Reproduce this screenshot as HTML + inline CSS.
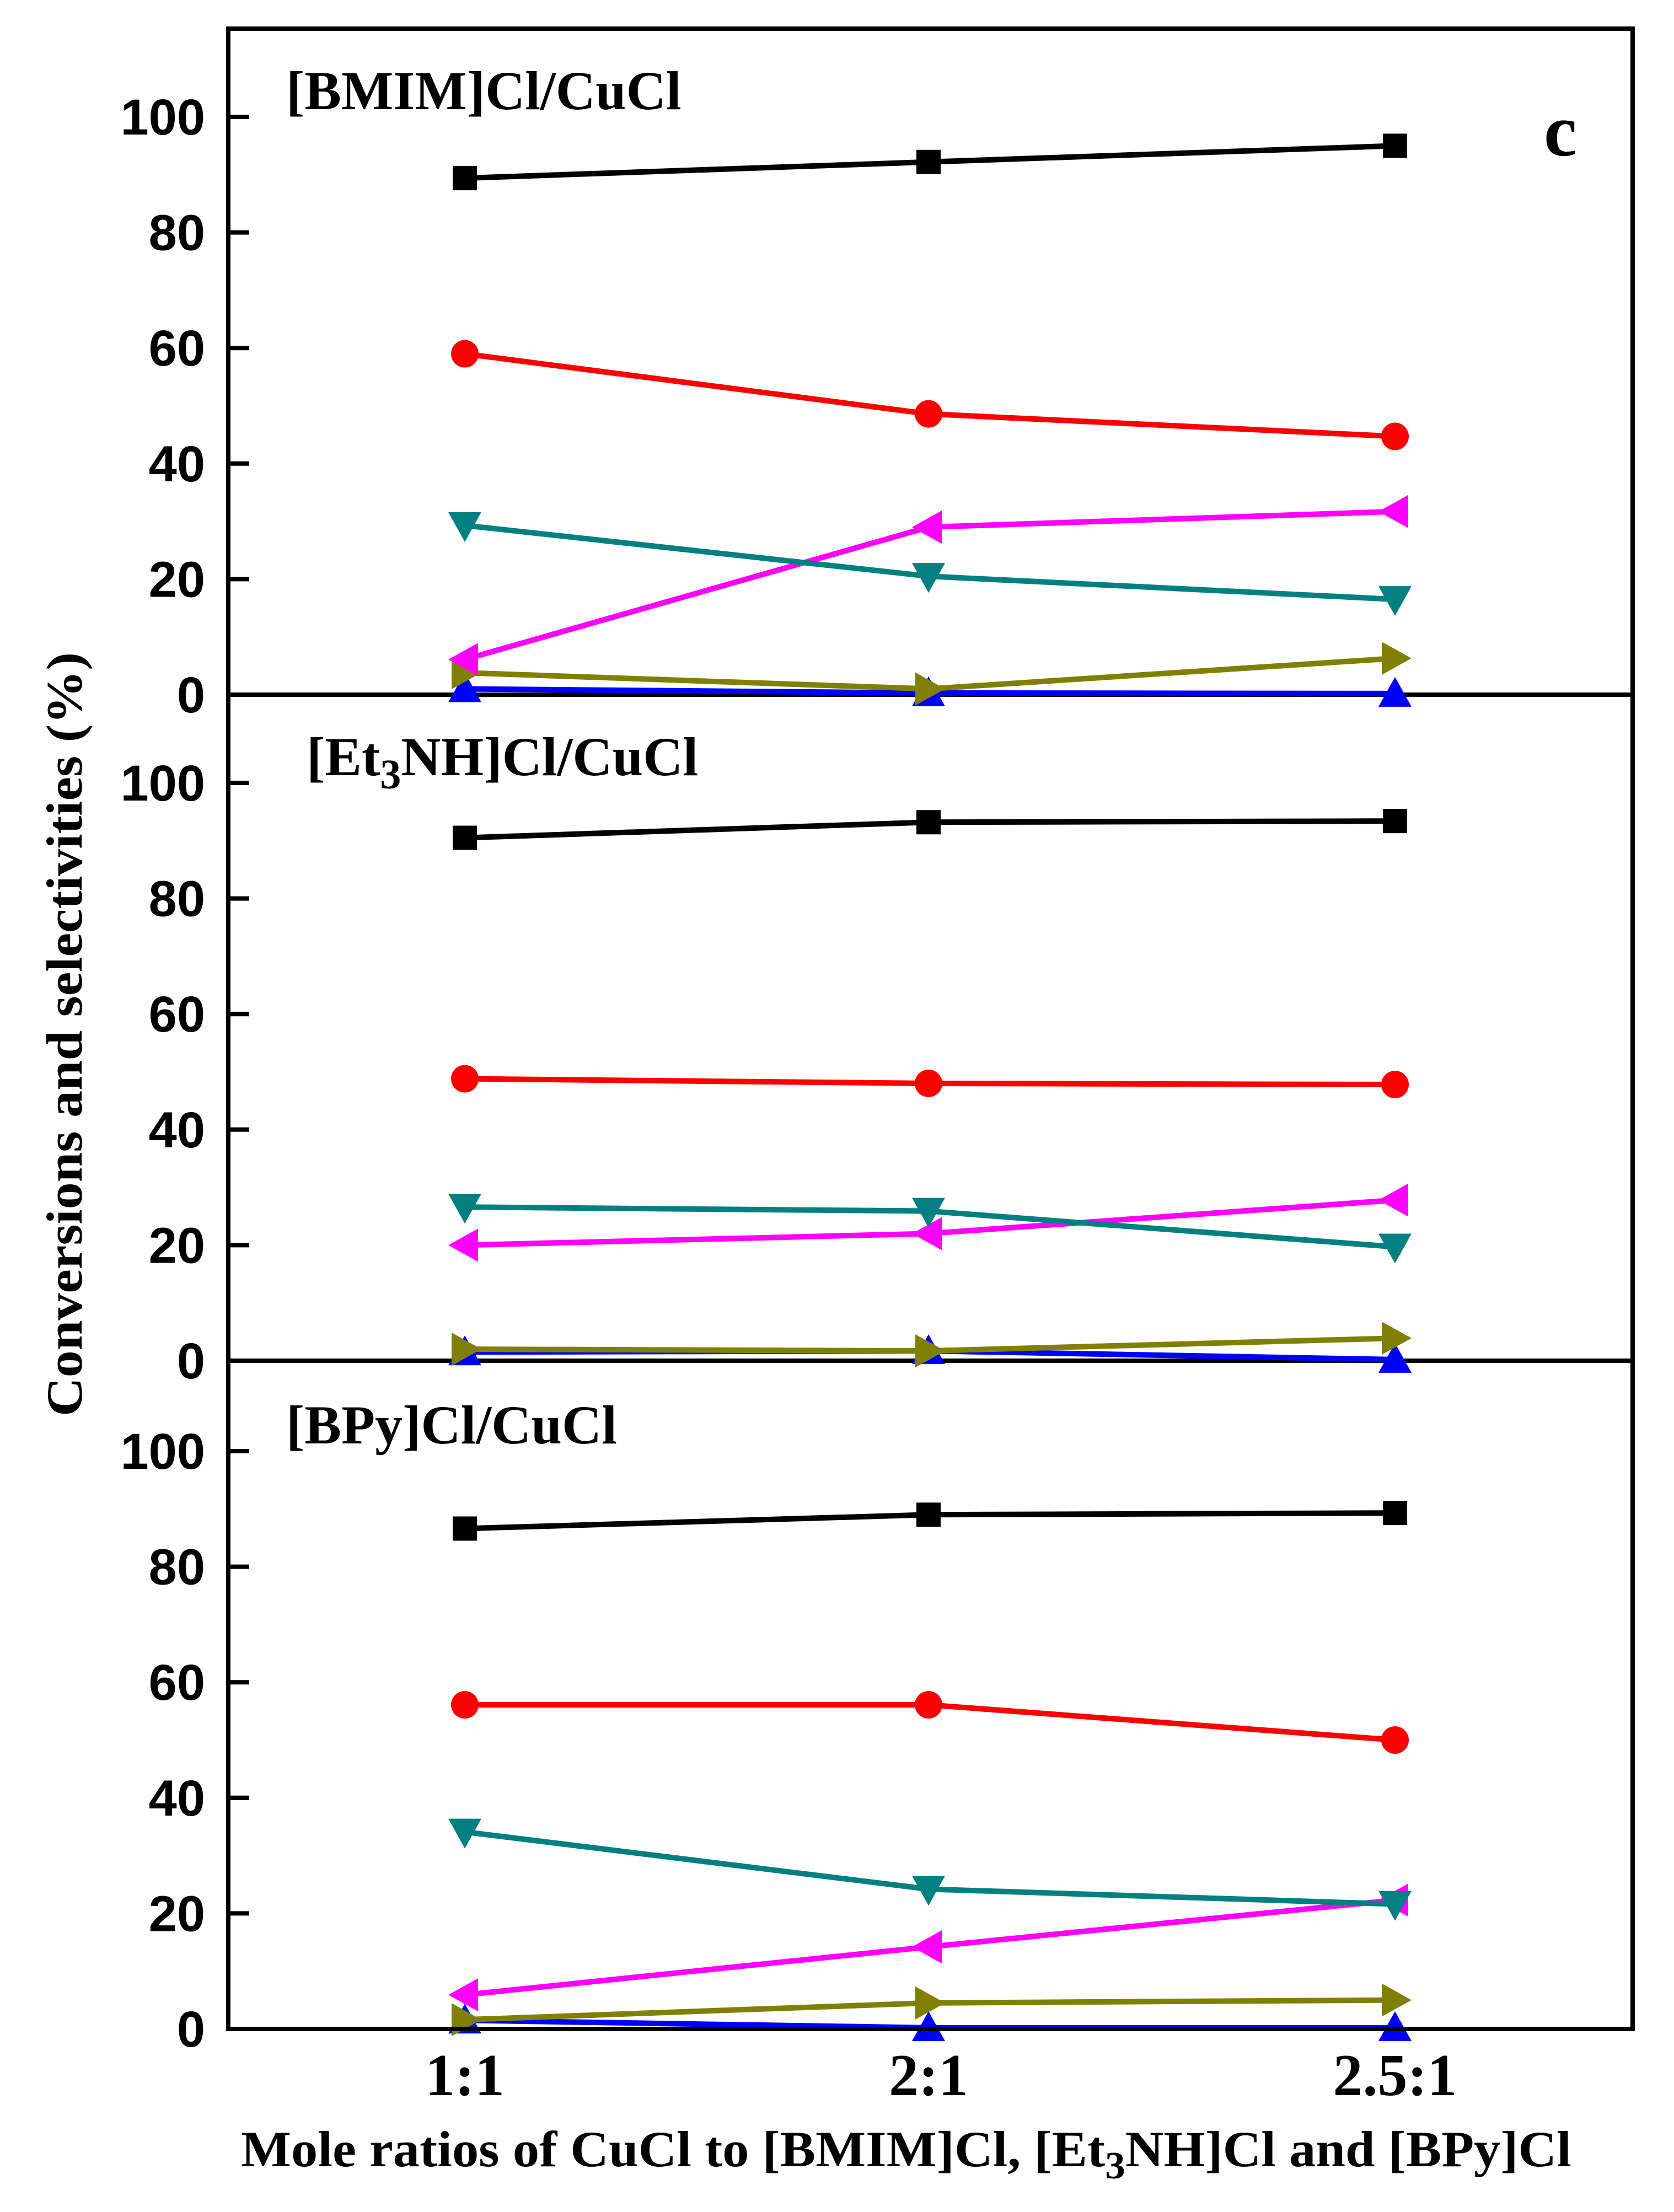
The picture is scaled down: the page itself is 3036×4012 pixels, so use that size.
<!DOCTYPE html>
<html><head><meta charset="utf-8"><style>html,body{margin:0;padding:0;background:#fff}svg{display:block}</style></head>
<body>
<svg id="chart" width="3036" height="4012" viewBox="0 0 3036 4012" xmlns="http://www.w3.org/2000/svg">
<rect x="0" y="0" width="3036" height="4012" fill="#fff"/>
<g id="plots"></g>
<rect x="414" y="52" width="2547" height="3628" fill="none" stroke="#000" stroke-width="8"/>
<text x="2800" y="282" font-family="Liberation Serif, serif" font-weight="bold" font-size="135">c</text>
<text transform="translate(148,1876) rotate(-90)" text-anchor="middle" font-family="Liberation Serif, serif" font-weight="bold" font-size="92" textLength="1386" lengthAdjust="spacingAndGlyphs">Conversions and selectivities (%)</text>
<text x="437" y="3929" font-family="Liberation Serif, serif" font-weight="bold" font-size="92" textLength="2413" lengthAdjust="spacingAndGlyphs">Mole ratios of CuCl to [BMIM]Cl, [Et<tspan font-size="70" dy="22">3</tspan><tspan dy="-22">NH]Cl and [BPy]Cl</tspan></text>
</svg>
<script>
const categories = ["1:1", "2:1", "2.5:1"];
const panelNames = ["[BMIM]Cl/CuCl", "[Et3NH]Cl/CuCl", "[BPy]Cl/CuCl"];
const yTicks = [0, 20, 40, 60, 80, 100];
// series per panel: [panel1, panel2, panel3]
const conversion = [[89.4, 92.2, 95.0], [90.5, 93.2, 93.4], [86.6, 89.0, 89.3]];
const selRed = [[59.0, 48.6, 44.7], [48.8, 48.0, 47.8], [56.1, 56.1, 50.0]];
const selTeal = [[29.3, 20.5, 16.5], [26.6, 25.9, 19.7], [34.1, 24.2, 21.6]];
const selMagenta = [[6.1, 29.0, 31.7], [20.0, 22.0, 27.8], [5.9, 14.2, 22.3]];
const selOlive = [[3.8, 1.0, 6.3], [2.0, 1.7, 3.9], [1.6, 4.5, 5.0]];
const selBlue = [[1.0, 0.3, 0.2], [1.5, 1.7, 0.2], [1.5, 0.2, 0.2]];

const NS = "http://www.w3.org/2000/svg";
const svg = document.getElementById("plots");
const zeros = [1260, 2468, 3680];
const pxPerUnit = 10.48;
const xPos = [843, 1684, 2530];
function xScale(i) { return xPos[i]; }
function yScale(p, v) { return zeros[p] - v * pxPerUnit; }
function mk(tag, attrs) { const e = document.createElementNS(NS, tag); for (const k in attrs) e.setAttribute(k, attrs[k]); svg.appendChild(e); return e; }

function marker(type, x, y, color) {
  let e;
  const s = 30;
  if (type === "square") e = mk("rect", {x: x - 22, y: y - 22, width: 44, height: 44, fill: color});
  else if (type === "circle") e = mk("circle", {cx: x, cy: y, r: 25, fill: color});
  else if (type === "down") e = mk("polygon", {points: `${x-s},${y-s*0.8} ${x+s},${y-s*0.8} ${x},${y+s}`, fill: color});
  else if (type === "up") e = mk("polygon", {points: `${x-s},${y+s*0.8} ${x+s},${y+s*0.8} ${x},${y-s}`, fill: color});
  else if (type === "left") e = mk("polygon", {points: `${x+s*0.8},${y-s} ${x+s*0.8},${y+s} ${x-s},${y}`, fill: color});
  else e = mk("polygon", {points: `${x-s*0.8},${y-s} ${x-s*0.8},${y+s} ${x+s},${y}`, fill: color});
  return e;
}

const seriesList = [
  {name: "blue", data: selBlue, color: "#0000ff", m: "up"},
  {name: "olive", data: selOlive, color: "#808000", m: "right"},
  {name: "magenta", data: selMagenta, color: "#ff00ff", m: "left"},
  {name: "teal", data: selTeal, color: "#008080", m: "down"},
  {name: "red", data: selRed, color: "#ff0000", m: "circle"},
  {name: "conversion", data: conversion, color: "#000000", m: "square"}
];

for (let p = 0; p < 3; p++) {
  const zl = mk("line", {x1: 414, x2: 2961, y1: zeros[p], y2: zeros[p], stroke: "#000", "stroke-width": 8});
  
  
  yTicks.forEach(t => {
    const y = yScale(p, t);
    const tk = mk("line", {x1: 414, x2: 452, y1: y, y2: y, stroke: "#000", "stroke-width": 8});
    
    
    const lb = mk("text", {x: 372, y: y + 32, "text-anchor": "end", "font-family": "Liberation Sans, sans-serif", "font-weight": "bold", "font-size": "92"});
    lb.textContent = String(t);
    
    
  });
  const title = mk("text", {x: p === 1 ? 556 : 519, y: yScale(p, 100) - 14, "font-family": "Liberation Serif, serif", "font-weight": "bold", "font-size": "100"});
  
  
  if (p === 1) {
    title.innerHTML = '[Et<tspan font-size="76" dy="24">3</tspan><tspan dy="-24">NH]Cl/CuCl</tspan>';
  } else title.textContent = panelNames[p];
  seriesList.forEach(s => {
    const pts = s.data[p].map((v, i) => `${xScale(i)},${yScale(p, v)}`).join(" ");
    const ln = mk("polyline", {points: pts, fill: "none", stroke: s.color, "stroke-width": 10});
    
    
    s.data[p].forEach((v, i) => {
      const mm = marker(s.m, xScale(i), yScale(p, v), s.color);
      
      
    });
  });
}
categories.forEach((c, i) => {
  const t = mk("text", {x: xScale(i), y: 3800, "text-anchor": "middle", "font-family": "Liberation Serif, serif", "font-weight": "bold", "font-size": "108"});
  t.textContent = c;
  
  
});
</script>
</body></html>
